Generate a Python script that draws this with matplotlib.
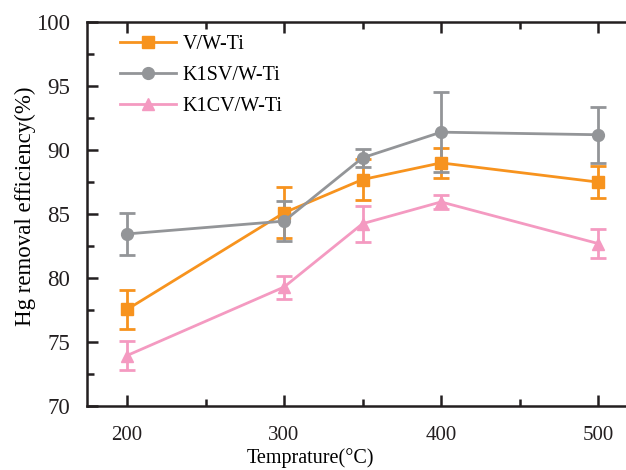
import matplotlib.pyplot as plt
from matplotlib.ticker import MultipleLocator

# ----------------------------
# Daten
# ----------------------------
temps = [200, 300, 350, 400, 500]

vwti = [77.55, 85.1, 87.7, 89.0, 87.5]
vwti_err = [1.55, 2.0, 1.6, 1.15, 1.25]

k1sv = [83.45, 84.45, 89.4, 91.4, 91.2]
k1sv_err = [1.65, 1.55, 0.7, 3.15, 2.2]

k1cv = [73.95, 79.3, 84.25, 85.95, 82.7]
k1cv_err = [1.1, 0.9, 1.4, 0.55, 1.1]

labels = ["V/W-Ti", "K1SV/W-Ti", "K1CV/W-Ti"]
colors = ["#F7931E", "#939598", "#F49AC1"]
markers = ["s", "o", "^"]

# ----------------------------
# Plot
# ----------------------------
plt.rcParams["font.family"] = ["Liberation Serif", "DejaVu Serif"]

fig = plt.figure(figsize=(6.26, 4.70), dpi=100)
ax = fig.add_axes([0.139, 0.136, 0.87, 0.817])

series = [(vwti, vwti_err), (k1sv, k1sv_err), (k1cv, k1cv_err)]
handles = []
for (vals, errs), lab, col, mk in zip(series, labels, colors, markers):
    cont = ax.errorbar(temps, vals, yerr=errs, color=col, marker=mk, markersize=8.5,
                       linewidth=2, elinewidth=2, capsize=6, capthick=2, label=lab)
    handles.append(cont.lines[0])

ax.set_xlim(174.5, 521.4)
ax.set_ylim(70, 100)
ax.xaxis.set_major_locator(MultipleLocator(100))
ax.xaxis.set_minor_locator(MultipleLocator(50))
ax.yaxis.set_major_locator(MultipleLocator(5))
ax.yaxis.set_minor_locator(MultipleLocator(2.5))

ax.tick_params(which="both", direction="in", width=1.8,
               top=True, right=False, colors="#231F20")
ax.tick_params(which="major", length=8)
ax.tick_params(which="minor", length=5)
ax.tick_params(axis="x", labelsize=15, pad=14)
ax.tick_params(axis="y", labelsize=16.5, pad=12)
for sp in ax.spines.values():
    sp.set_linewidth(1.8)
    sp.set_color("#231F20")

ax.set_xlabel("Temprature(°C)", fontsize=14.5, labelpad=0)
ax.xaxis.set_label_coords(0.41, -0.11)
ax.set_ylabel("Hg removal efficiency(%)", fontsize=16.5, labelpad=6)
ax.yaxis.set_label_coords(-0.094, 0.52)

ax.legend(handles, labels, loc="upper left", frameon=False, fontsize=14.5,
          handlelength=2.8, bbox_to_anchor=(0.027, 1.015), labelspacing=0.6,
          handletextpad=0.3)

plt.savefig("out.png", dpi=100)
